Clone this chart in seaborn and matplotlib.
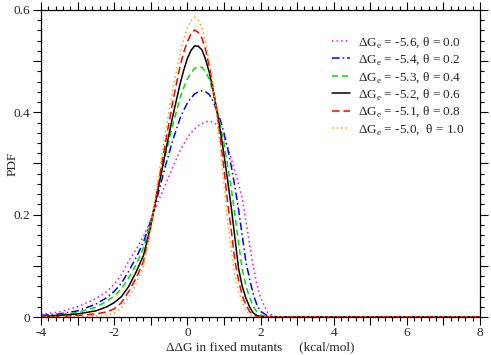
# PDF of ddG in fixed mutants for several theta values
import pandas as pd
import matplotlib
matplotlib.use("Agg")
import matplotlib.pyplot as plt
import seaborn as sns
from matplotlib.ticker import MultipleLocator

# x grid
ddg = [-4, -3.5, -3, -2.5, -2.2, -2, -1.8, -1.6, -1.4, -1.2, -1.0, -0.8, -0.6, -0.4, -0.2, -0.1,
       0, 0.1, 0.2, 0.3, 0.4, 0.5, 0.6, 0.7, 0.8, 0.9, 1.0, 1.1, 1.2, 1.3, 1.4, 1.5, 1.6, 1.7, 1.8, 1.9, 2.0,
       2.2, 2.4, 2.6, 3, 8]

pdf_00 = [0.005, 0.010, 0.020, 0.036, 0.050, 0.064, 0.083, 0.110, 0.132, 0.157, 0.190, 0.225, 0.258, 0.292, 0.325, 0.338,
          0.350, 0.360, 0.368, 0.374, 0.378, 0.381, 0.383, 0.381, 0.376, 0.365, 0.350, 0.332, 0.310, 0.285, 0.260, 0.232, 0.188, 0.142, 0.100, 0.064, 0.038,
          0.008, 0.001, 0, 0, 0]
pdf_02 = [0.003, 0.006, 0.012, 0.025, 0.038, 0.050, 0.066, 0.090, 0.116, 0.146, 0.188, 0.240, 0.295, 0.345, 0.388, 0.404,
          0.418, 0.428, 0.436, 0.440, 0.442, 0.440, 0.435, 0.422, 0.405, 0.385, 0.360, 0.330, 0.295, 0.255, 0.210, 0.160, 0.108, 0.075, 0.045, 0.024, 0.011,
          0.002, 0, 0, 0, 0]
pdf_04 = [0.002, 0.004, 0.009, 0.019, 0.031, 0.041, 0.055, 0.077, 0.102, 0.135, 0.185, 0.250, 0.315, 0.375, 0.428, 0.448,
          0.465, 0.477, 0.486, 0.489, 0.488, 0.479, 0.465, 0.440, 0.410, 0.375, 0.340, 0.297, 0.252, 0.200, 0.145, 0.093, 0.062, 0.038, 0.021, 0.010, 0.004,
          0, 0, 0, 0, 0]
pdf_06 = [0.001, 0.003, 0.006, 0.012, 0.020, 0.028, 0.040, 0.060, 0.088, 0.120, 0.178, 0.250, 0.322, 0.392, 0.455, 0.482,
          0.505, 0.521, 0.530, 0.529, 0.522, 0.503, 0.478, 0.445, 0.405, 0.365, 0.318, 0.268, 0.215, 0.155, 0.095, 0.060, 0.037, 0.020, 0.008, 0.003, 0.001,
          0, 0, 0, 0, 0]
pdf_08 = [0.001, 0.001, 0.003, 0.006, 0.010, 0.016, 0.028, 0.050, 0.076, 0.108, 0.175, 0.258, 0.340, 0.420, 0.490, 0.517,
          0.538, 0.553, 0.561, 0.556, 0.545, 0.522, 0.490, 0.450, 0.405, 0.350, 0.290, 0.225, 0.170, 0.110, 0.072, 0.042, 0.024, 0.011, 0.004, 0.001, 0,
          0, 0, 0, 0, 0]
pdf_10 = [0, 0.001, 0.001, 0.002, 0.004, 0.008, 0.018, 0.038, 0.065, 0.098, 0.172, 0.268, 0.360, 0.445, 0.515, 0.543,
          0.565, 0.579, 0.586, 0.580, 0.565, 0.537, 0.500, 0.452, 0.398, 0.330, 0.260, 0.190, 0.130, 0.082, 0.050, 0.029, 0.013, 0.004, 0.001, 0, 0,
          0, 0, 0, 0, 0]

labels = ["ΔG$_{\\mathrm{e}}$ = -5.6, θ = 0.0",
          "ΔG$_{\\mathrm{e}}$ = -5.4, θ = 0.2",
          "ΔG$_{\\mathrm{e}}$ = -5.3, θ = 0.4",
          "ΔG$_{\\mathrm{e}}$ = -5.2, θ = 0.6",
          "ΔG$_{\\mathrm{e}}$ = -5.1, θ = 0.8",
          "ΔG$_{\\mathrm{e}}$ = -5.0,  θ = 1.0"]
series = [pdf_00, pdf_02, pdf_04, pdf_06, pdf_08, pdf_10]
colors = ["#ff00ff", "#0000ff", "#00e000", "#000000", "#ff0000", "#ffa500"]
styles = [(0, (1, 2)), (0, (5, 2, 1, 2)), (0, (4, 2.5)), "-", (0, (5, 2.5)), (0, (1, 2))]

sns.set_style("ticks")
plt.rcParams["font.family"] = ["Liberation Serif", "DejaVu Serif"]
plt.rcParams["mathtext.fontset"] = "custom"
plt.rcParams["mathtext.rm"] = "Liberation Serif"
plt.rcParams["font.size"] = 9.5

f, ax = plt.subplots(figsize=(4.91, 3.55), dpi=100)
f.subplots_adjust(left=41/491, right=480/491, bottom=1-317/355, top=1-10/355)

for lab, ys, c, ls in zip(labels, series, colors, styles):
    df = pd.DataFrame({"ddg": ddg, "pdf": ys})
    sns.lineplot(x="ddg", y="pdf", data=df, color=c, linestyle=ls, linewidth=1.1,
                 label=lab, ax=ax, sort=False)

ax.set_xlim(-4, 8)
ax.set_ylim(0, 0.6)
ax.xaxis.set_major_locator(MultipleLocator(1))
ax.xaxis.set_minor_locator(MultipleLocator(0.2))
ax.yaxis.set_major_locator(MultipleLocator(0.1))
ax.yaxis.set_minor_locator(MultipleLocator(0.02))
ax.set_xticklabels(["" if int(round(v)) % 2 else "%d" % round(v) for v in ax.get_xticks()])
ax.set_yticklabels(["0" if abs(v) < 1e-9 else ("%.1f" % v if int(round(v * 10)) % 2 == 0 else "")
                    for v in ax.get_yticks()])
ax.tick_params(which="both", direction="out", top=True, right=True, width=0.8, color="black",
               labelsize=9.5, pad=2)
ax.tick_params(which="major", length=5.5)
ax.tick_params(which="minor", length=3)
for s in ax.spines.values():
    s.set_linewidth(0.9)
    s.set_color("black")

ax.set_xlabel("ΔΔG in fixed mutants     (kcal/mol)", fontsize=9.5, labelpad=1)
ax.set_ylabel("PDF", fontsize=9.5)
ax.yaxis.set_label_coords(-0.052, 0.5)

ax.legend(loc="upper left", bbox_to_anchor=(0.662, 0.918), frameon=False, fontsize=9.5,
          handlelength=1.4, handletextpad=0.6, labelspacing=0.22, borderpad=0, borderaxespad=0)

plt.savefig("out.png", dpi=100)
